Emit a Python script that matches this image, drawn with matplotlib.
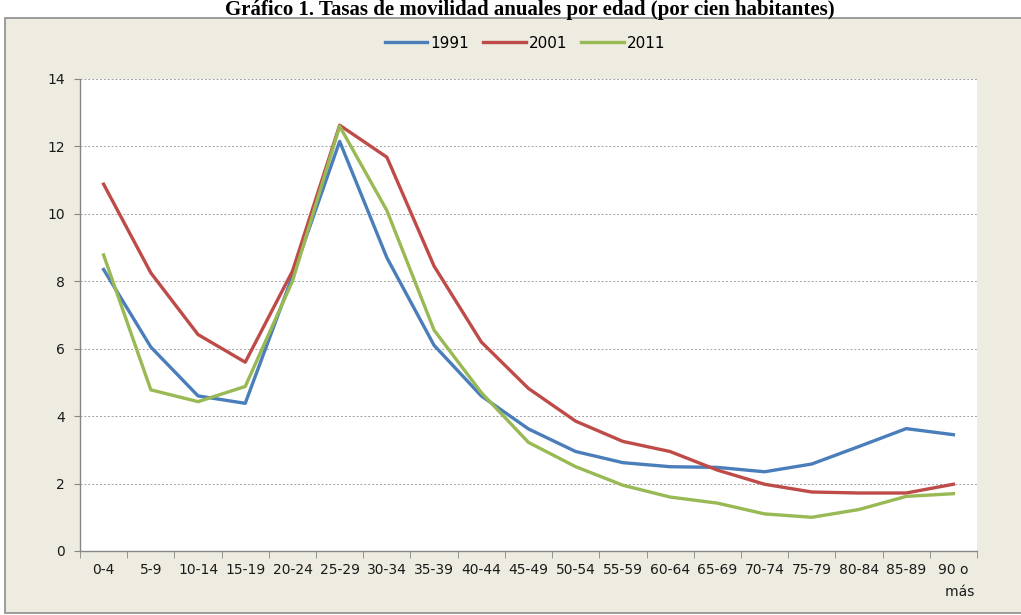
import matplotlib.pyplot as plt
from matplotlib.patches import Rectangle

edades = ['0-4', '5-9', '10-14', '15-19', '20-24', '25-29', '30-34', '35-39',
          '40-44', '45-49', '50-54', '55-59', '60-64', '65-69', '70-74',
          '75-79', '80-84', '85-89', '90 o\n   más']

t1991 = [8.35, 6.05, 4.6, 4.38, 8.15, 12.15, 8.7, 6.1, 4.6, 3.62, 2.95,
         2.62, 2.5, 2.48, 2.35, 2.58, 3.1, 3.63, 3.45]
t2001 = [10.88, 8.25, 6.42, 5.6, 8.3, 12.63, 11.68, 8.45, 6.2, 4.82, 3.85,
         3.25, 2.95, 2.4, 1.98, 1.75, 1.72, 1.72, 1.98]
t2011 = [8.78, 4.78, 4.43, 4.88, 8.0, 12.6, 10.1, 6.55, 4.7, 3.22, 2.5,
         1.95, 1.6, 1.42, 1.1, 1.0, 1.23, 1.62, 1.7]

plt.rcParams['font.family'] = ['DejaVu Sans']

fig = plt.figure(figsize=(10.21, 6.15), dpi=100)
fig.patch.set_facecolor('white')

# marco beige del grafico
W, H = 1021.0, 615.0
marco = Rectangle((5 / W, 2 / H), 1.1, (613 - 18) / H, transform=fig.transFigure,
                  facecolor='#EEECE1', edgecolor='#8C8C8C', linewidth=1.2, zorder=-5)
fig.patches.append(marco)

fig.text(530 / W, 1 - 15 / H,
         'Gráfico 1. Tasas de movilidad anuales por edad (por cien habitantes)',
         ha='center', va='baseline', fontsize=15, fontweight='bold',
         family=['Liberation Serif', 'DejaVu Serif'])

ax = fig.add_axes([80 / W, 64 / H, (977 - 80) / W, (551 - 79) / H])
ax.set_zorder(2)
ax.set_facecolor('white')

x = list(range(len(edades)))
ax.plot(x, t1991, color='#4A7EBB', lw=2.4, label='1991')
ax.plot(x, t2001, color='#BE4B48', lw=2.4, label='2001')
ax.plot(x, t2011, color='#98B954', lw=2.4, label='2011')

ax.set_xlim(-0.5, len(edades) - 0.5)
ax.set_ylim(0, 14)
ax.set_yticks(range(0, 15, 2))
ax.set_xticks(x)
ax.set_xticklabels(edades, linespacing=1.7)
ax.set_xticks([i - 0.5 for i in range(len(edades) + 1)], minor=True)
ax.tick_params(axis='x', which='major', length=0, pad=9, labelsize=10, colors='#1a1a1a')
ax.tick_params(axis='x', which='minor', length=5, color='#868686', direction='out')
ax.tick_params(axis='y', length=4, color='#868686', labelsize=10, colors='#1a1a1a', pad=7)
ax.grid(axis='y', color='#A0A0A0', linestyle=(0, (2, 2)), linewidth=0.7)
ax.set_axisbelow(True)

for s in ['top', 'right']:
    ax.spines[s].set_visible(False)
for s in ['left', 'bottom']:
    ax.spines[s].set_color('#868686')
    ax.spines[s].set_linewidth(1.0)

fig.legend(loc='center', bbox_to_anchor=(525 / W, 1 - 43 / H), ncol=3,
           frameon=False, fontsize=11, handlelength=2.8, columnspacing=0.9,
           handletextpad=0.2)

fig.savefig('out.png', dpi=100)
